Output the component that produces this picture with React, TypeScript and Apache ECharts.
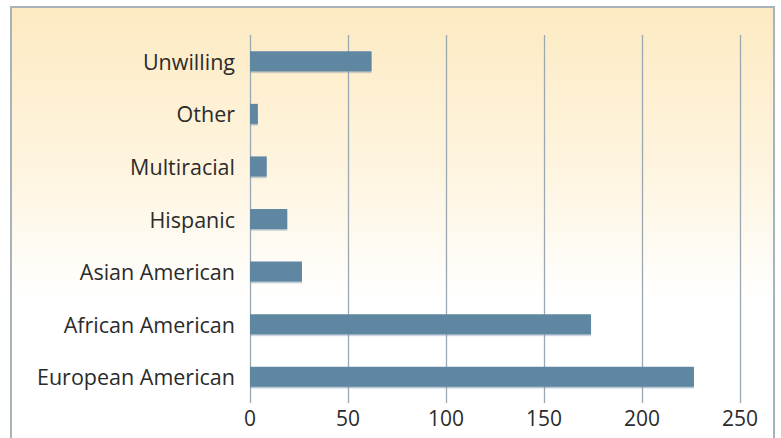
import React, { useEffect, useRef } from "react";
import * as echarts from "echarts";

const categories = [
  "Unwilling",
  "Other",
  "Multiracial",
  "Hispanic",
  "Asian American",
  "African American",
  "European American",
];
const values = [62, 4, 8.5, 19, 26.5, 174, 226.5];
const xTicks = [0, 50, 100, 150, 200, 250];

export default function App() {
  const ref = useRef<HTMLDivElement>(null);
  useEffect(() => {
    if (!ref.current) return;
    const chart = echarts.init(ref.current, undefined, { renderer: "svg" });
    chart.setOption({
      animation: false,
      backgroundColor: "#ffffff",
      graphic: [
        {
          type: "rect",
          z: -10,
          silent: true,
          shape: { x: 11, y: 7, width: 763, height: 445 },
          style: {
            fill: new echarts.graphic.LinearGradient(0, 0, 0, 1, [
              { offset: 0, color: "#fdeac2" },
              { offset: 0.35, color: "#fef4de" },
              { offset: 0.66, color: "#ffffff" },
              { offset: 1, color: "#ffffff" },
            ]),
            stroke: "#a8b2b9",
            lineWidth: 2,
          },
        },
      ],
      grid: { left: 250, right: 41, top: 35, height: 368, containLabel: false },
      xAxis: {
        type: "value",
        min: xTicks[0],
        max: xTicks[xTicks.length - 1],
        interval: 50,
        axisLine: { show: false },
        axisTick: { show: false },
        axisLabel: {
          color: "#2b2b2b",
          fontFamily: "Open Sans",
          fontSize: 21,
          margin: 4,
        },
        splitLine: { show: true, lineStyle: { color: "#9ba8b1", width: 1.3 } },
      },
      yAxis: {
        type: "category",
        inverse: true,
        data: categories,
        axisLine: { show: false },
        axisTick: { show: false },
        axisLabel: {
          color: "#2b2b2b",
          fontFamily: "Open Sans",
          fontSize: 21.5,
          margin: 15,
        },
        splitLine: { show: false },
      },
      series: [
        {
          type: "bar",
          data: values,
          barWidth: 20,
          itemStyle: {
            color: "#5e87a2",
            shadowColor: "rgba(120,150,175,0.6)",
            shadowOffsetY: 1.5,
            shadowBlur: 0,
          },
        },
      ],
    });
    return () => chart.dispose();
  }, []);
  return (
    <div
      ref={ref}
      style={{ position: "fixed", left: 0, top: 0, width: 781, height: 438 }}
    />
  );
}
